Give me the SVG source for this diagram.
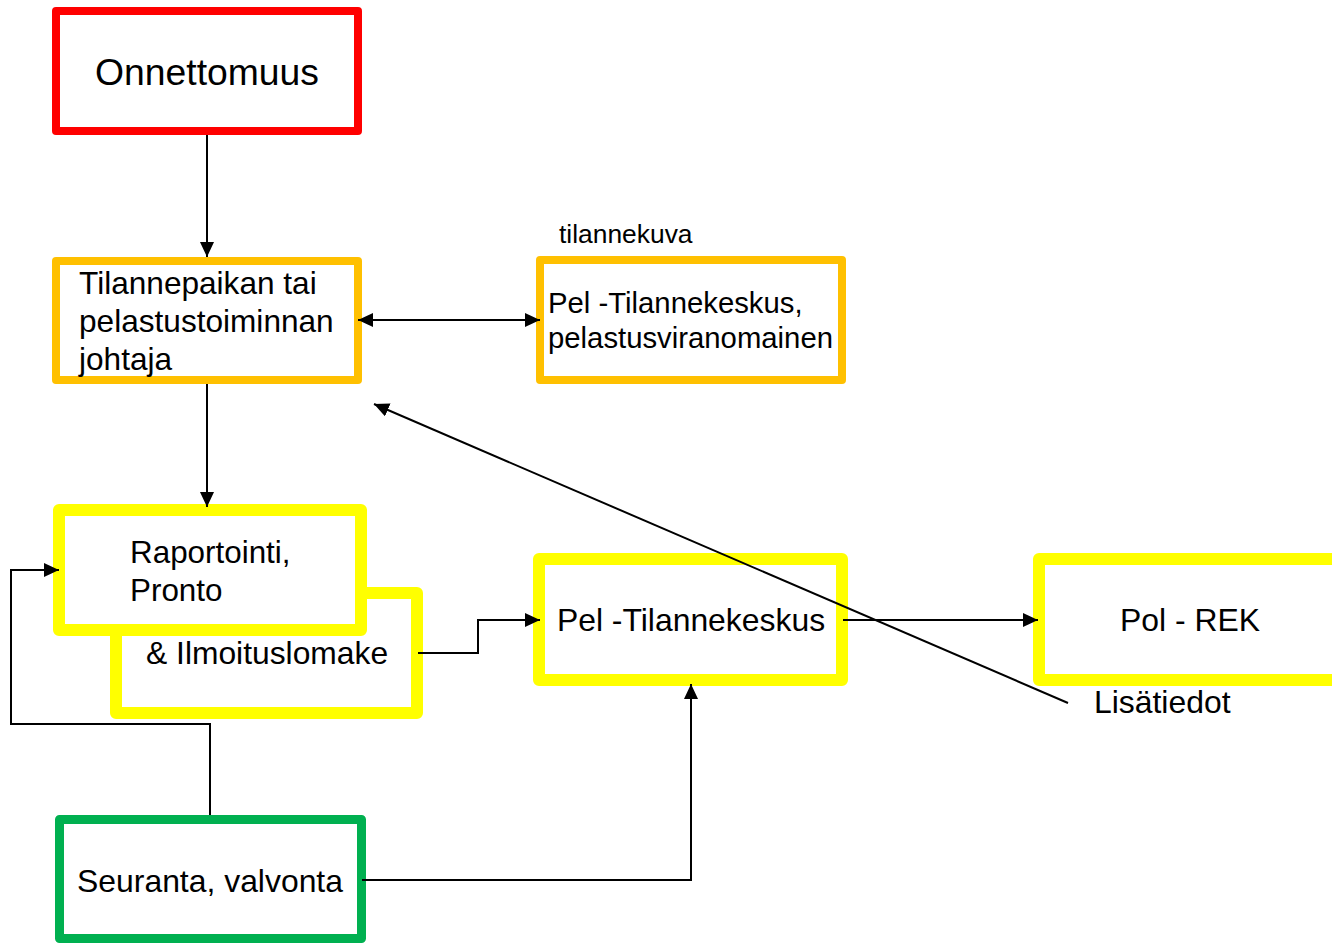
<svg xmlns="http://www.w3.org/2000/svg" width="1332" height="943" viewBox="0 0 1332 943">
<style>
text{font-family:"Liberation Sans",Arial,sans-serif;fill:#000}
.box{fill:#fff;stroke-linejoin:round}
.red{stroke:#FF0000;stroke-width:8}
.org{stroke:#FFC000;stroke-width:8}
.yel{stroke:#FFFF00;stroke-width:12}
.grn{stroke:#00B050;stroke-width:9}
.c{fill:none;stroke:#000;stroke-width:2}
</style>
<defs>
<marker id="ah" markerUnits="userSpaceOnUse" markerWidth="15" markerHeight="14" refX="15" refY="7" orient="auto-start-reverse" viewBox="0 0 15 14">
<path d="M0,0 L15,7 L0,14 z" fill="#000"/>
</marker>
</defs>
<rect width="1332" height="943" fill="#fff"/>
<g id="onnettomuus">
<rect class="box red" x="56" y="11" width="302" height="120"/>
<text x="207" y="85" font-size="37.3" text-anchor="middle">Onnettomuus</text>
</g>
<g id="johtaja">
<rect class="box org" x="56" y="261" width="302" height="119"/>
<text font-size="31.6"><tspan x="79" y="294">Tilannepaikan tai</tspan><tspan x="79" y="332">pelastustoiminnan</tspan><tspan x="79" y="370">johtaja</tspan></text>
</g>
<g id="pel-viranomainen">
<rect class="box org" x="540" y="260" width="302" height="120"/>
<text font-size="29.3"><tspan x="548" y="313">Pel -Tilannekeskus,</tspan><tspan x="548" y="348">pelastusviranomainen</tspan></text>
</g>
<g id="tilannekuva-label">
<text x="559" y="243" font-size="26.4">tilannekuva</text>
</g>
<g id="ilmoituslomake">
<rect class="box yel" x="116" y="593" width="301" height="120"/>
<text x="146" y="664" font-size="31.8">&amp; Ilmoituslomake</text>
</g>
<g id="raportointi">
<rect class="box yel" x="59" y="510" width="302" height="120"/>
<text font-size="31.4"><tspan x="130" y="563">Raportointi,</tspan><tspan x="130" y="601">Pronto</tspan></text>
</g>
<g id="pel-tilannekeskus">
<rect class="box yel" x="539" y="559" width="303" height="121"/>
<text x="691" y="631" font-size="31.9" text-anchor="middle">Pel -Tilannekeskus</text>
</g>
<g id="pol-rek">
<rect class="box yel" x="1039" y="559" width="302" height="121"/>
<text x="1190" y="631" font-size="31.9" text-anchor="middle">Pol - REK</text>
</g>
<g id="seuranta">
<rect class="box grn" x="59.5" y="819.5" width="302" height="119"/>
<text x="210" y="892" font-size="31.9" text-anchor="middle">Seuranta, valvonta</text>
</g>
<g id="lisatiedot-label">
<text x="1094" y="713" font-size="31.9">Lisätiedot</text>
</g>
<g id="connectors">
<path class="c" d="M207,135 V257" marker-end="url(#ah)"/>
<path class="c" d="M358,320 H540" marker-start="url(#ah)" marker-end="url(#ah)"/>
<path class="c" d="M207,384 V507" marker-end="url(#ah)"/>
<path class="c" d="M418,653 H478 V620 H540" marker-end="url(#ah)"/>
<path class="c" d="M843,620 H1038" marker-end="url(#ah)"/>
<path class="c" d="M1068,703 L374,404" marker-end="url(#ah)"/>
<path class="c" d="M210,815 V724 H11 V570 H59" marker-end="url(#ah)"/>
<path class="c" d="M362,880 H691 V684" marker-end="url(#ah)"/>
</g>
</svg>
